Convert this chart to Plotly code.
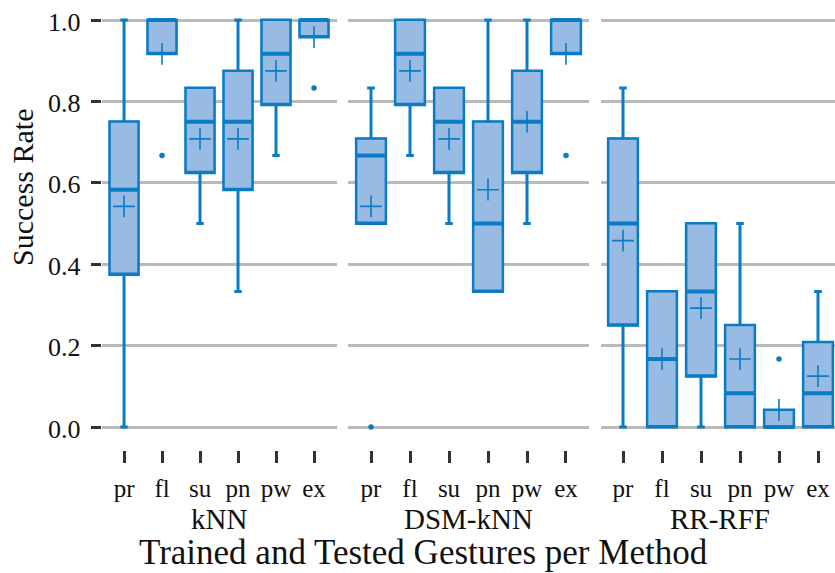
import plotly.graph_objects as go

# ---- data -------------------------------------------------------------
gestures = ["pr", "fl", "su", "pn", "pw", "ex"]
methods = ["kNN", "DSM-kNN", "RR-RFF"]

# kNN
knn_q1 = [0.375, 0.917, 0.625, 0.583, 0.792, 0.958]
knn_median = [0.583, 1.0, 0.75, 0.75, 0.917, 1.0]
knn_q3 = [0.75, 1.0, 0.833, 0.875, 1.0, 1.0]
knn_low = [0.0, 0.917, 0.5, 0.333, 0.667, 0.958]
knn_high = [1.0, 1.0, 0.833, 1.0, 1.0, 1.0]
knn_mean = [0.542, 0.917, 0.708, 0.708, 0.875, 0.958]
knn_outlier_gesture = ["fl", "ex"]
knn_outlier_value = [0.667, 0.833]

# DSM-kNN
dsm_q1 = [0.5, 0.792, 0.625, 0.333, 0.625, 0.917]
dsm_median = [0.667, 0.917, 0.75, 0.5, 0.75, 1.0]
dsm_q3 = [0.708, 1.0, 0.833, 0.75, 0.875, 1.0]
dsm_low = [0.5, 0.667, 0.5, 0.333, 0.5, 0.917]
dsm_high = [0.833, 1.0, 0.833, 1.0, 1.0, 1.0]
dsm_mean = [0.542, 0.875, 0.708, 0.583, 0.75, 0.917]
dsm_outlier_gesture = ["pr", "ex"]
dsm_outlier_value = [0.0, 0.667]

# RR-RFF
rff_q1 = [0.25, 0.0, 0.125, 0.0, 0.0, 0.0]
rff_median = [0.5, 0.167, 0.333, 0.083, 0.0, 0.083]
rff_q3 = [0.708, 0.333, 0.5, 0.25, 0.042, 0.208]
rff_low = [0.0, 0.0, 0.0, 0.0, 0.0, 0.0]
rff_high = [0.833, 0.333, 0.5, 0.5, 0.042, 0.333]
rff_mean = [0.458, 0.167, 0.292, 0.167, 0.042, 0.125]
rff_outlier_gesture = ["pw"]
rff_outlier_value = [0.167]

y_ticks = [0.0, 0.2, 0.4, 0.6, 0.8, 1.0]

# ---- styling ----------------------------------------------------------
W, H = 835, 573
BLUE = "#0a7bc4"
FILL = "#97bbe3"
GRID = "#bababa"
TICK = "#333333"
TEXT = "#111111"
FONT = "Liberation Serif, Times New Roman, serif"
BOX_W = 0.75

panels = [
    dict(q1=knn_q1, med=knn_median, q3=knn_q3, lo=knn_low, hi=knn_high,
         mean=knn_mean, og=knn_outlier_gesture, ov=knn_outlier_value,
         dom=(102, 337), rng=(-0.58, 5.605)),
    dict(q1=dsm_q1, med=dsm_median, q3=dsm_q3, lo=dsm_low, hi=dsm_high,
         mean=dsm_mean, og=dsm_outlier_gesture, ov=dsm_outlier_value,
         dom=(348, 589), rng=(-0.59, 5.59)),
    dict(q1=rff_q1, med=rff_median, q3=rff_q3, lo=rff_low, hi=rff_high,
         mean=rff_mean, og=rff_outlier_gesture, ov=rff_outlier_value,
         dom=(601, 835), rng=(-0.564, 5.436)),
]

y_top_px, y_bot_px = 8, 450
y_range = [-0.0565, 1.0295]

fig = go.Figure()
xpos = list(range(len(gestures)))

for i, p in enumerate(panels):
    xa = "x" if i == 0 else f"x{i+1}"
    ya = "y" if i == 0 else f"y{i+1}"
    px_per_unit = (p["dom"][1] - p["dom"][0]) / (p["rng"][1] - p["rng"][0])
    box_px = BOX_W * px_per_unit

    # whiskers (thicker strokes)
    fig.add_trace(go.Box(
        x=xpos, q1=p["q1"], median=p["q1"], q3=p["q3"],
        lowerfence=p["lo"], upperfence=p["hi"],
        width=BOX_W, whiskerwidth=0.26,
        line=dict(color=BLUE, width=3), fillcolor="rgba(0,0,0,0)",
        boxpoints=False, hoverinfo="skip", showlegend=False,
        xaxis=xa, yaxis=ya,
    ))
    # filled boxes
    fig.add_trace(go.Box(
        x=xpos, q1=p["q1"], median=p["q1"], q3=p["q3"],
        lowerfence=p["q1"], upperfence=p["q3"],
        width=BOX_W, whiskerwidth=0,
        line=dict(color=BLUE, width=2), fillcolor=FILL,
        boxpoints=False, hoverinfo="skip", showlegend=False,
        xaxis=xa, yaxis=ya,
    ))
    # medians
    fig.add_trace(go.Scatter(
        x=xpos, y=p["med"], mode="markers",
        marker=dict(symbol="line-ew", size=box_px / 1.4,
                    line=dict(color=BLUE, width=4)),
        hoverinfo="skip", showlegend=False, xaxis=xa, yaxis=ya,
    ))
    # means
    fig.add_trace(go.Scatter(
        x=xpos, y=p["mean"], mode="markers",
        marker=dict(symbol="cross-thin", size=15.5,
                    line=dict(color=BLUE, width=1.6)),
        hoverinfo="skip", showlegend=False, xaxis=xa, yaxis=ya,
    ))
    # outliers
    fig.add_trace(go.Scatter(
        x=[gestures.index(g) for g in p["og"]], y=p["ov"], mode="markers",
        marker=dict(symbol="circle", size=5.5, color=BLUE),
        hoverinfo="skip", showlegend=False, xaxis=xa, yaxis=ya,
    ))

layout = dict(
    width=W, height=H,
    margin=dict(l=0, r=0, t=0, b=0),
    paper_bgcolor="white", plot_bgcolor="white",
    boxmode="overlay",
    font=dict(family=FONT, color=TEXT, size=25),
)

y_dom = [1 - y_bot_px / H, 1 - y_top_px / H]
for i, p in enumerate(panels):
    sfx = "" if i == 0 else str(i + 1)
    layout[f"xaxis{sfx}"] = dict(
        domain=[p["dom"][0] / W, p["dom"][1] / W], range=list(p["rng"]),
        anchor=f"y{sfx}",
        tickmode="array", tickvals=xpos, ticktext=gestures,
        ticks="outside", ticklen=12, tickwidth=2.5, tickcolor=TICK,
        ticklabelstandoff=4,
        tickfont=dict(family=FONT, size=25, color=TEXT),
        showgrid=False, zeroline=False, showline=False,
    )
    yax = dict(
        domain=y_dom, range=y_range, anchor=f"x{sfx}",
        tickmode="array", tickvals=y_ticks,
        showgrid=True, gridcolor=GRID, gridwidth=2.6,
        zeroline=False, showline=False, showticklabels=False,
    )
    if i == 0:
        yax.update(ticks="outside", ticklen=10, tickwidth=2.6, tickcolor=TICK)
    else:
        yax.update(matches="y", ticks="")
    layout[f"yaxis{sfx}"] = yax

annotations = []
# y tick labels, right-aligned next to the tick marks
for v in y_ticks:
    annotations.append(dict(
        text=f"{v:.1f}", x=82 / W, y=v, xref="paper", yref="y",
        xanchor="right", yanchor="middle", showarrow=False, yshift=-2,
        borderpad=0, font=dict(family=FONT, size=26, color=TEXT),
    ))
# method names under each panel
for i, (p, name) in enumerate(zip(panels, methods)):
    px_per_unit = (p["dom"][1] - p["dom"][0]) / (p["rng"][1] - p["rng"][0])
    cx = p["dom"][0] + (2.5 - p["rng"][0]) * px_per_unit
    annotations.append(dict(
        text=name, x=cx / W, y=1 - 519 / H, xref="paper", yref="paper",
        xanchor="center", yanchor="middle", showarrow=False,
        font=dict(family=FONT, size=29, color=TEXT),
    ))
annotations.append(dict(
    text="Trained and Tested Gestures per Method",
    x=423.5 / W, y=0, xref="paper", yref="paper",
    xanchor="center", yanchor="bottom", showarrow=False, borderpad=0,
    font=dict(family=FONT, size=35, color=TEXT),
))
annotations.append(dict(
    text="Success Rate", textangle=-90,
    x=22 / W, y=1 - 188 / H, xref="paper", yref="paper",
    xanchor="center", yanchor="middle", showarrow=False,
    font=dict(family=FONT, size=30, color=TEXT),
))
layout["annotations"] = annotations

fig.update_layout(**layout)
fig.write_html("out.html")
